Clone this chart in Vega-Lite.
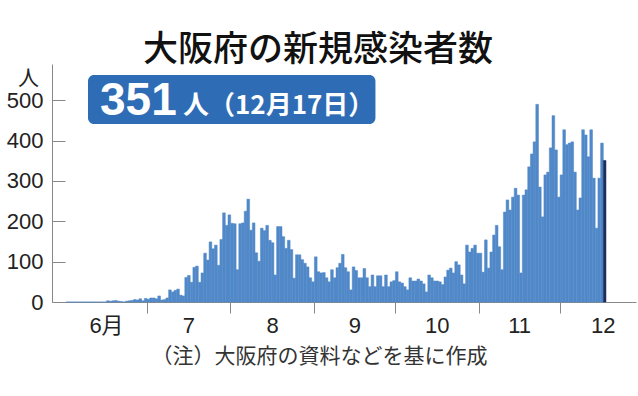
{
  "$schema": "https://vega.github.io/schema/vega-lite/v6.json",
  "width": 584,
  "height": 238,
  "autosize": {"type": "none"},
  "padding": {"left": 52, "top": 64, "right": 2, "bottom": 94},
  "background": "white",
  "title": {
    "text": "大阪府の新規感染者数",
    "font": "Noto Sans CJK JP",
    "fontSize": 35,
    "fontWeight": 500,
    "color": "#111111",
    "anchor": "middle",
    "frame": "group",
    "baseline": "bottom",
    "offset": 0,
    "dx": -26,
    "dy": 39
  },
  "config": {
    "view": {"stroke": null},
    "axis": {"grid": false}
  },
  "data": {
    "values": [
      {"d":"2020-06-01","n":0},{"d":"2020-06-02","n":0},{"d":"2020-06-03","n":0},{"d":"2020-06-04","n":0},{"d":"2020-06-05","n":0},
      {"d":"2020-06-06","n":0},{"d":"2020-06-07","n":0},{"d":"2020-06-08","n":0},{"d":"2020-06-09","n":0},{"d":"2020-06-10","n":0},
      {"d":"2020-06-11","n":0},{"d":"2020-06-12","n":0},{"d":"2020-06-13","n":0},{"d":"2020-06-14","n":0},{"d":"2020-06-15","n":0},
      {"d":"2020-06-16","n":3},{"d":"2020-06-17","n":2},{"d":"2020-06-18","n":3},{"d":"2020-06-19","n":4},{"d":"2020-06-20","n":2},
      {"d":"2020-06-21","n":1},{"d":"2020-06-22","n":0},{"d":"2020-06-23","n":2},{"d":"2020-06-24","n":3},{"d":"2020-06-25","n":4},
      {"d":"2020-06-26","n":6},{"d":"2020-06-27","n":5},{"d":"2020-06-28","n":8},{"d":"2020-06-29","n":3},{"d":"2020-06-30","n":9},
      {"d":"2020-07-01","n":7},{"d":"2020-07-02","n":10},{"d":"2020-07-03","n":10},{"d":"2020-07-04","n":8},{"d":"2020-07-05","n":15},
      {"d":"2020-07-06","n":5},{"d":"2020-07-07","n":6},{"d":"2020-07-08","n":10},{"d":"2020-07-09","n":30},{"d":"2020-07-10","n":25},
      {"d":"2020-07-11","n":29},{"d":"2020-07-12","n":32},{"d":"2020-07-13","n":17},{"d":"2020-07-14","n":15},{"d":"2020-07-15","n":61},
      {"d":"2020-07-16","n":66},{"d":"2020-07-17","n":49},{"d":"2020-07-18","n":86},{"d":"2020-07-19","n":89},{"d":"2020-07-20","n":49},
      {"d":"2020-07-21","n":72},{"d":"2020-07-22","n":121},{"d":"2020-07-23","n":104},{"d":"2020-07-24","n":149},{"d":"2020-07-25","n":132},
      {"d":"2020-07-26","n":141},{"d":"2020-07-27","n":91},{"d":"2020-07-28","n":155},{"d":"2020-07-29","n":221},{"d":"2020-07-30","n":190},
      {"d":"2020-07-31","n":216},
      {"d":"2020-08-01","n":195},{"d":"2020-08-02","n":194},{"d":"2020-08-03","n":80},{"d":"2020-08-04","n":194},{"d":"2020-08-05","n":196},
      {"d":"2020-08-06","n":225},{"d":"2020-08-07","n":255},{"d":"2020-08-08","n":178},{"d":"2020-08-09","n":196},{"d":"2020-08-10","n":122},
      {"d":"2020-08-11","n":101},{"d":"2020-08-12","n":183},{"d":"2020-08-13","n":177},{"d":"2020-08-14","n":190},{"d":"2020-08-15","n":153},
      {"d":"2020-08-16","n":147},{"d":"2020-08-17","n":67},{"d":"2020-08-18","n":187},{"d":"2020-08-19","n":187},{"d":"2020-08-20","n":162},
      {"d":"2020-08-21","n":133},{"d":"2020-08-22","n":153},{"d":"2020-08-23","n":130},{"d":"2020-08-24","n":59},{"d":"2020-08-25","n":117},
      {"d":"2020-08-26","n":117},{"d":"2020-08-27","n":105},{"d":"2020-08-28","n":96},{"d":"2020-08-29","n":87},{"d":"2020-08-30","n":60},
      {"d":"2020-08-31","n":50},
      {"d":"2020-09-01","n":112},{"d":"2020-09-02","n":75},{"d":"2020-09-03","n":72},{"d":"2020-09-04","n":73},{"d":"2020-09-05","n":60},
      {"d":"2020-09-06","n":50},{"d":"2020-09-07","n":80},{"d":"2020-09-08","n":60},{"d":"2020-09-09","n":85},{"d":"2020-09-10","n":96},
      {"d":"2020-09-11","n":118},{"d":"2020-09-12","n":85},{"d":"2020-09-13","n":75},{"d":"2020-09-14","n":30},{"d":"2020-09-15","n":87},
      {"d":"2020-09-16","n":78},{"d":"2020-09-17","n":60},{"d":"2020-09-18","n":60},{"d":"2020-09-19","n":83},{"d":"2020-09-20","n":60},
      {"d":"2020-09-21","n":38},{"d":"2020-09-22","n":67},{"d":"2020-09-23","n":38},{"d":"2020-09-24","n":65},{"d":"2020-09-25","n":65},
      {"d":"2020-09-26","n":38},{"d":"2020-09-27","n":67},{"d":"2020-09-28","n":38},{"d":"2020-09-29","n":50},{"d":"2020-09-30","n":53},
      {"d":"2020-10-01","n":75},{"d":"2020-10-02","n":50},{"d":"2020-10-03","n":47},{"d":"2020-10-04","n":38},{"d":"2020-10-05","n":30},
      {"d":"2020-10-06","n":60},{"d":"2020-10-07","n":52},{"d":"2020-10-08","n":52},{"d":"2020-10-09","n":57},{"d":"2020-10-10","n":52},
      {"d":"2020-10-11","n":45},{"d":"2020-10-12","n":25},{"d":"2020-10-13","n":67},{"d":"2020-10-14","n":60},{"d":"2020-10-15","n":52},
      {"d":"2020-10-16","n":52},{"d":"2020-10-17","n":50},{"d":"2020-10-18","n":43},{"d":"2020-10-19","n":62},{"d":"2020-10-20","n":79},
      {"d":"2020-10-21","n":84},{"d":"2020-10-22","n":72},{"d":"2020-10-23","n":100},{"d":"2020-10-24","n":92},{"d":"2020-10-25","n":67},
      {"d":"2020-10-26","n":45},{"d":"2020-10-27","n":141},{"d":"2020-10-28","n":124},{"d":"2020-10-29","n":133},{"d":"2020-10-30","n":141},
      {"d":"2020-10-31","n":121},
      {"d":"2020-11-01","n":121},{"d":"2020-11-02","n":74},{"d":"2020-11-03","n":154},{"d":"2020-11-04","n":84},{"d":"2020-11-05","n":124},
      {"d":"2020-11-06","n":166},{"d":"2020-11-07","n":190},{"d":"2020-11-08","n":137},{"d":"2020-11-09","n":80},{"d":"2020-11-10","n":223},
      {"d":"2020-11-11","n":253},{"d":"2020-11-12","n":228},{"d":"2020-11-13","n":260},{"d":"2020-11-14","n":282},{"d":"2020-11-15","n":265},
      {"d":"2020-11-16","n":72},{"d":"2020-11-17","n":265},{"d":"2020-11-18","n":278},{"d":"2020-11-19","n":335},{"d":"2020-11-20","n":367},
      {"d":"2020-11-21","n":397},{"d":"2020-11-22","n":490},{"d":"2020-11-23","n":285},{"d":"2020-11-24","n":211},{"d":"2020-11-25","n":315},
      {"d":"2020-11-26","n":322},{"d":"2020-11-27","n":382},{"d":"2020-11-28","n":462},{"d":"2020-11-29","n":377},{"d":"2020-11-30","n":260},
      {"d":"2020-12-01","n":315},{"d":"2020-12-02","n":427},{"d":"2020-12-03","n":390},{"d":"2020-12-04","n":394},{"d":"2020-12-05","n":397},
      {"d":"2020-12-06","n":322},{"d":"2020-12-07","n":228},{"d":"2020-12-08","n":258},{"d":"2020-12-09","n":427},{"d":"2020-12-10","n":414},
      {"d":"2020-12-11","n":360},{"d":"2020-12-12","n":427},{"d":"2020-12-13","n":307},{"d":"2020-12-14","n":183},{"d":"2020-12-15","n":307},
      {"d":"2020-12-16","n":394},{"d":"2020-12-17","n":351}
    ]
  },
  "layer": [
    {
      "mark": {"type": "bar", "binSpacing": 0, "strokeWidth": 0.5},
      "encoding": {
        "x": {
          "field": "d",
          "type": "temporal",
          "timeUnit": "utcyearmonthdate",
          "scale": {
            "type": "utc",
            "domain": [
              {"year": 2020, "month": 5, "date": 27, "utc": true},
              {"year": 2020, "month": 12, "date": 29, "hours": 7, "utc": true}
            ]
          },
          "axis": {
            "orient": "bottom",
            "values": [
              {"year": 2020, "month": 7, "date": 1, "utc": true},
              {"year": 2020, "month": 8, "date": 1, "utc": true},
              {"year": 2020, "month": 9, "date": 1, "utc": true},
              {"year": 2020, "month": 10, "date": 1, "utc": true},
              {"year": 2020, "month": 11, "date": 1, "utc": true},
              {"year": 2020, "month": 12, "date": 1, "utc": true}
            ],
            "labels": false,
            "ticks": true,
            "tickSize": 11,
            "tickColor": "#888888",
            "tickWidth": 1,
            "domainColor": "#888888",
            "domainWidth": 1,
            "title": null,
            "grid": false
          }
        },
        "y": {
          "field": "n",
          "type": "quantitative",
          "scale": {"domain": [0, 590], "nice": false, "zero": true},
          "axis": {
            "values": [0, 100, 200, 300, 400, 500],
            "title": "人",
            "titleAngle": 0,
            "titleX": -24,
            "titleY": 14,
            "titleAlign": "center",
            "titleBaseline": "middle",
            "titleFont": "Noto Sans CJK JP",
            "titleFontSize": 21,
            "titleFontWeight": "normal",
            "titleColor": "#222222",
            "labelFont": "Liberation Sans",
            "labelFontSize": 22,
            "labelColor": "#222222",
            "tickSize": -13,
            "labelPadding": 22,
            "tickColor": "#888888",
            "domainColor": "#888888",
            "grid": false
          }
        },
        "color": {
          "condition": {"test": "time(datum.d) === utc(2020, 11, 17)", "value": "#1c2f5c"},
          "value": "#5088c8"
        },
        "stroke": {
          "condition": {"test": "time(datum.d) === utc(2020, 11, 17)", "value": "#1c2f5c"},
          "value": "#5088c8"
        }
      }
    },
    {
      "transform": [{"filter": "time(datum.d) === utc(2020, 11, 17)"}],
      "mark": {"type": "rect", "color": "#2e6cb5", "cornerRadius": 6},
      "encoding": {
        "x": {
          "datum": {"year": 2020, "month": 6, "date": 9, "hours": 8, "utc": true},
          "type": "temporal",
          "axis": {
            "orient": "bottom",
            "values": [
              {"year": 2020, "month": 6, "date": 16, "utc": true},
              {"year": 2020, "month": 7, "date": 16, "hours": 12, "utc": true},
              {"year": 2020, "month": 8, "date": 16, "hours": 12, "utc": true},
              {"year": 2020, "month": 9, "date": 16, "utc": true},
              {"year": 2020, "month": 10, "date": 16, "hours": 12, "utc": true},
              {"year": 2020, "month": 11, "date": 16, "utc": true},
              {"year": 2020, "month": 12, "date": 17, "utc": true}
            ],
            "labelExpr": "utcmonth(datum.value) == 5 ? '6月' : toString(utcmonth(datum.value) + 1)",
            "ticks": false,
            "domain": false,
            "grid": false,
            "labelPadding": 13,
            "labelFont": "Liberation Sans, Noto Sans CJK JP",
            "labelFontSize": 22,
            "labelColor": "#222222",
            "labelFlush": false,
            "labelOverlap": false,
            "title": "（注）大阪府の資料などを基に作成",
            "titleFont": "Noto Sans CJK JP",
            "titleFontSize": 21,
            "titleFontWeight": "normal",
            "titleColor": "#333333",
            "titleX": 267,
            "titleY": 54,
            "titleAlign": "center",
            "titleBaseline": "middle"
          }
        },
        "x2": {"datum": {"year": 2020, "month": 9, "date": 23, "hours": 19, "utc": true}},
        "y": {"datum": 563, "type": "quantitative", "axis": null},
        "y2": {"datum": 441}
      }
    },
    {
      "transform": [{"filter": "time(datum.d) === utc(2020, 11, 17)"}],
      "mark": {"type": "text", "font": "Liberation Sans", "fontWeight": "bold", "fontSize": 46, "color": "#ffffff", "align": "left", "baseline": "alphabetic"},
      "encoding": {
        "x": {"datum": {"year": 2020, "month": 6, "date": 13, "hours": 19, "utc": true}, "type": "temporal", "axis": null},
        "y": {"datum": 464, "type": "quantitative", "axis": null},
        "text": {"field": "n", "type": "quantitative"}
      }
    },
    {
      "transform": [{"filter": "time(datum.d) === utc(2020, 11, 17)"}],
      "mark": {"type": "text", "font": "Noto Sans CJK JP", "fontWeight": "bold", "fontSize": 26, "color": "#ffffff", "align": "left", "baseline": "alphabetic"},
      "encoding": {
        "x": {"datum": {"year": 2020, "month": 7, "date": 14, "hours": 12, "utc": true}, "type": "temporal", "axis": null},
        "y": {"datum": 466, "type": "quantitative", "axis": null},
        "text": {"value": "人（12月17日）"}
      }
    }
  ],
  "resolve": {"axis": {"x": "independent", "y": "independent"}}
}
